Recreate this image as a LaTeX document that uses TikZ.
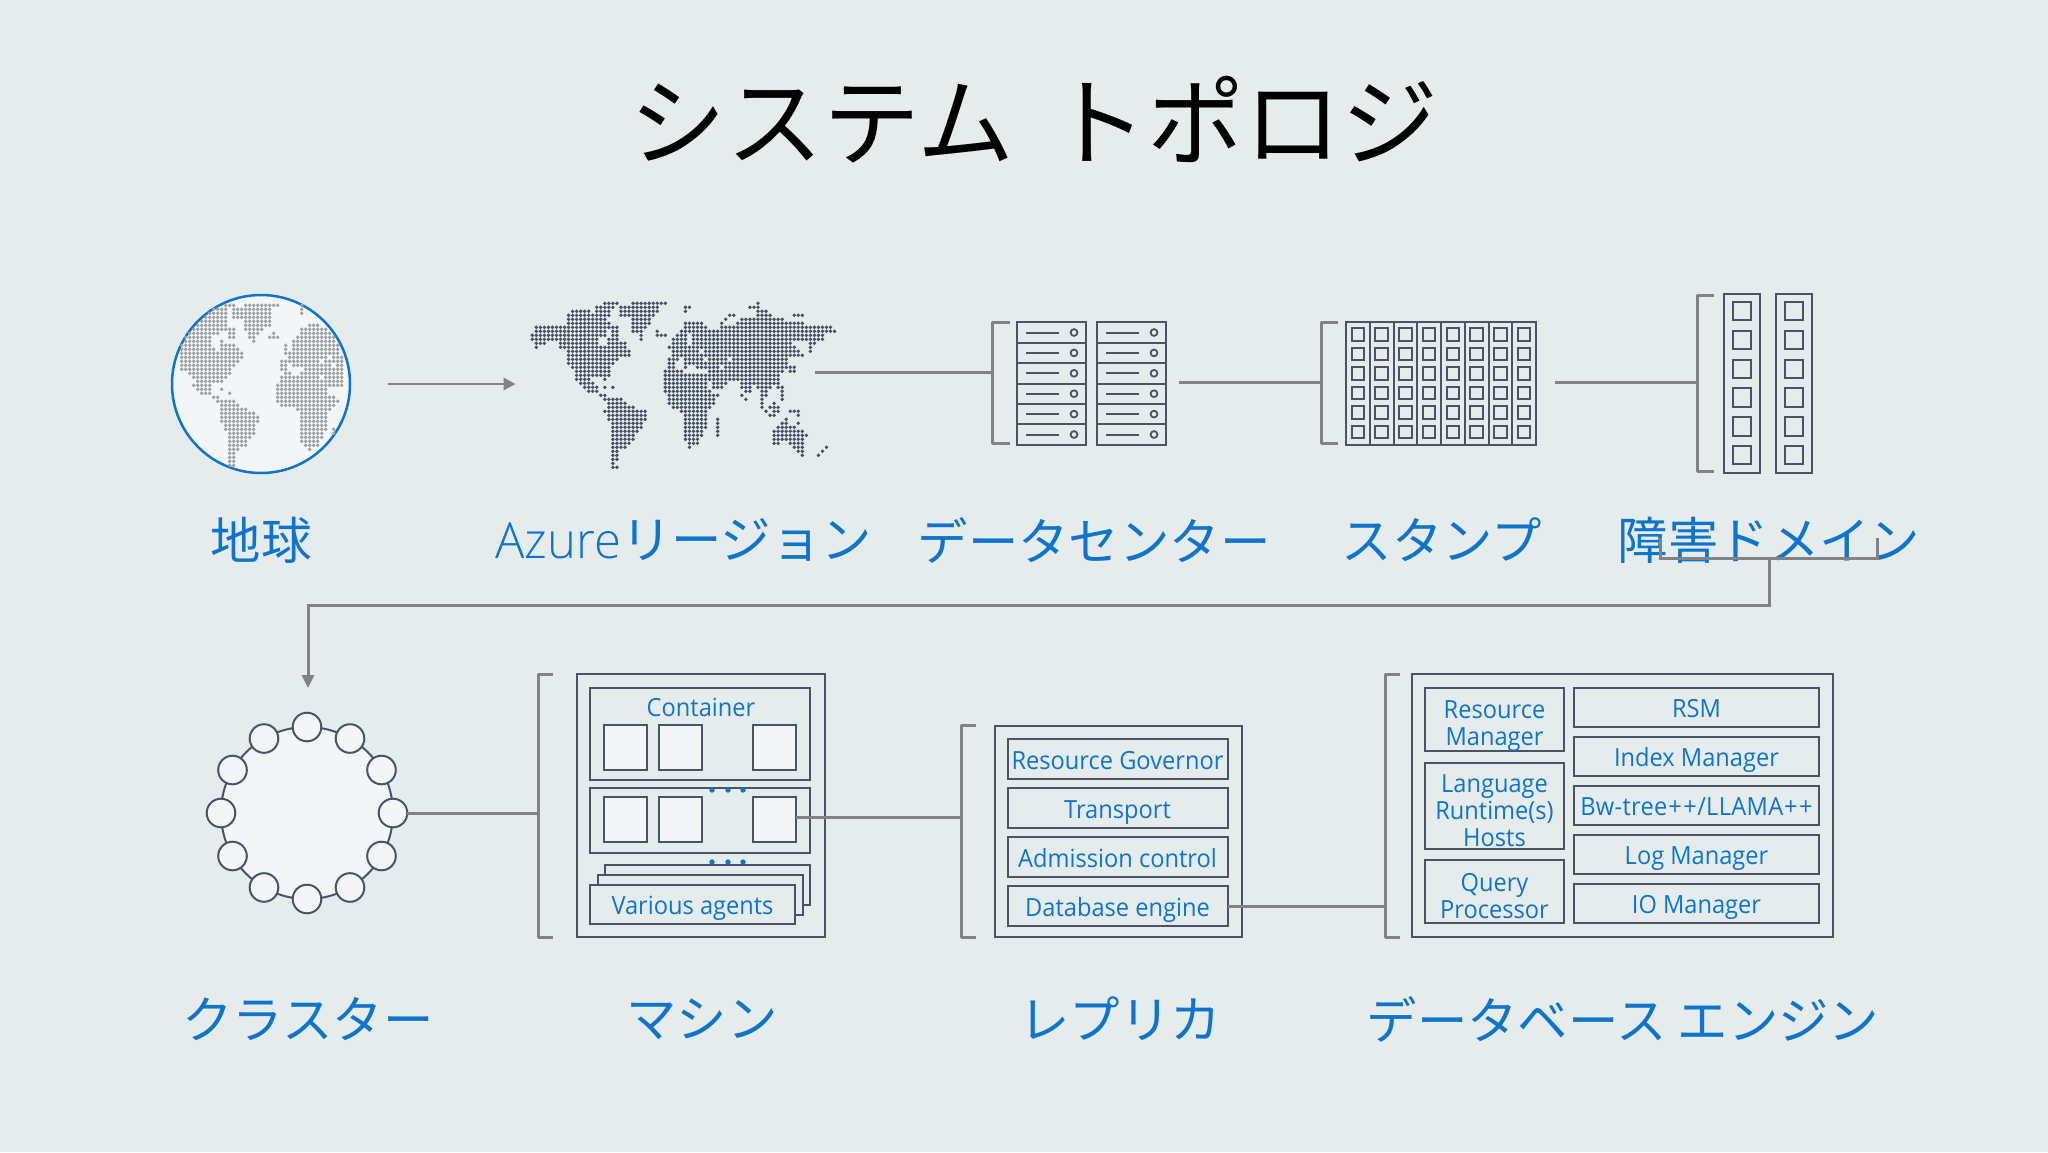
\documentclass[tikz,border=0pt]{standalone}
\usepackage{fontspec}
\usetikzlibrary{arrows.meta}
\setmainfont{Open Sans}[FakeStretch=0.945]
\newfontfamily\azfont{Open Sans}[UprightFont={* Light},FakeStretch=0.98]
\newfontfamily\jp{Noto Sans CJK JP}
\definecolor{bgc}{HTML}{E6EBEC}
\definecolor{ink}{HTML}{4A5468}
\definecolor{conn}{HTML}{808285}
\definecolor{lab}{HTML}{0F75CC}
\definecolor{paper}{HTML}{F4F5F7}
\definecolor{land}{HTML}{A0A1A3}
\definecolor{mapd}{HTML}{465064}
\tikzset{
  frame/.style={draw=ink,line width=2pt,inner sep=0pt,outer sep=0pt},
  txtbox/.style={frame,text=lab,font=\fontsize{25}{27}\selectfont,text height=22pt,text depth=2pt},
  multitext/.style={text=lab,font=\fontsize{25}{27}\selectfont,align=center,inner sep=0pt},
  paperbox/.style={frame,fill=paper},
  wire/.style={draw=conn,line width=3pt},
  bracket/.style={draw=conn,line width=3pt,line join=round},
  title/.style={text=black,font=\jp\fontsize{97}{97}\selectfont,inner sep=0pt},
  biglabel/.style={text=lab,font=\jp\fontsize{50.4}{50.4}\selectfont,inner sep=0pt},
  ringnode/.style={circle,draw=ink,line width=2pt,fill=paper,minimum size=28.6pt,inner sep=0pt,outer sep=0pt},
  bluedot/.style={circle,fill=lab,minimum size=5.4pt,inner sep=0pt}
}
\newcommand\mrow[2]{\foreach \a/\b in {#2}{\foreach \c in {\a,...,\b}{\fill[mapd] ({532.3+4.03*\c},{303.3+4*#1}) circle[radius=1.9pt];}}}
\newcommand\grow[2]{\foreach \a/\b in {#2}{\foreach \c in {\a,...,\b}{\fill[land] ({181.7+4*\c},{305.3+4*#1}) circle[radius=1.9pt];}}}
\begin{document}
\begin{tikzpicture}[x=1pt,y=-1pt]
\fill[bgc] (0,0) rectangle (2048,1152);
\path[use as bounding box] (0,0) rectangle (2048,1152);
% title
\node[title] (ttl) at (1034,120) {システム\hspace{36pt}トポロジ};
% globe
\node[circle,draw=lab,line width=2.5pt,fill=paper,minimum size=178pt,inner sep=0pt,outer sep=0pt] (earth) at (261,384) {};
\grow{0}{11/13,16/24,30/30}
\grow{1}{8/11,13/22,30/30}
\grow{2}{7/11,13/22,30/30}
\grow{3}{6/11,13/22}
\grow{4}{5/11,16/22}
\grow{5}{4/11,16/22,32/34}
\grow{6}{3/10,11/13,16/20,30/36}
\grow{7}{2/9,12/13,17/19,23/23,30/37}
\grow{8}{1/7,12/13,17/18,22/24,29/38}
\grow{9}{1/7,10/10,18/18,28/38}
\grow{10}{0/7,10/13,26/26,28/39}
\grow{11}{0/8,10/14,26/26,28/39}
\grow{12}{0/15,26/39}
\grow{13}{0/15,27/36,38/40}
\grow{14}{0/14,25/27,28/34,36/40}
\grow{15}{0/13,25/26,28/37,39/40}
\grow{16}{0/12,25/26,31/40}
\grow{17}{2/12,26/27,30/40}
\grow{18}{3/11,25/34,36/40}
\grow{19}{4/10,25/35,36/40}
\grow{20}{3/7,24/35,36/40}
\grow{21}{4/6,7/7,10/10,24/36}
\grow{22}{5/7,12/12,24/36}
\grow{23}{8/9,24/38}
\grow{24}{9/13,24/39}
\grow{25}{10/14,25/38}
\grow{26}{10/16,29/37}
\grow{27}{10/18,30/36}
\grow{28}{10/19,30/36}
\grow{29}{10/19,30/36}
\grow{30}{11/18,30/36}
\grow{31}{11/18,30/36,38/38}
\grow{32}{12/18,30/35,38/38}
\grow{33}{12/17,30/35}
\grow{34}{12/16,30/34}
\grow{35}{12/16,31/34}
\grow{36}{12/14,32/32}
\grow{37}{12/13}
\grow{38}{12/13}
\grow{39}{12/13}
\grow{40}{12/13}
% world map
\mrow{0}{18/21,25/33,56/56}
\mrow{1}{16/20,22/31,38/39,54/56}
\mrow{2}{10/14,16/19,22/31,38/38,56/58}
\mrow{3}{9/19,22/30,49/50,56/59,65/67}
\mrow{4}{9/18,25/29,48/48,52/62}
\mrow{5}{9/19,25/29,38/42,47/47,51/67}
\mrow{6}{1/19,20/21,25/28,38/43,47/74}
\mrow{7}{1/18,20/21,25/27,31/31,37/75}
\mrow{8}{0/18,20/21,27/27,31/33,36/38,40/72}
\mrow{9}{0/16,19/21,27/27,35/38,40/72}
\mrow{10}{1/3,7/16,19/23,35/35,36/38,40/64,69/70}
\mrow{11}{1/1,7/23,34/64,65/65,69/69}
\mrow{12}{9/24,35/41,43/66,69/69}
\mrow{13}{9/24,35/67}
\mrow{14}{9/21,34/36,38/42,44/48,50/63}
\mrow{15}{9/20,34/35,38/63}
\mrow{16}{10/19,34/35,38/38,41/46,48/63,64/65}
\mrow{17}{11/19,33/37,44/62,64/65}
\mrow{18}{11/19,33/43,44/61}
\mrow{19}{11/14,18/18,33/61}
\mrow{20}{12/15,33/43,45/48,52/61}
\mrow{21}{13/15,16/16,18/18,20/20,33/43,45/47,52/54,56/59,61/62}
\mrow{22}{14/16,33/44,53/54,57/58,62/62}
\mrow{23}{17/18,34/46,52/52,57/58,62/62}
\mrow{24}{18/22,34/45,53/53,57/57,62/62}
\mrow{25}{19/23,34/45,57/57,60/60}
\mrow{26}{19/25,35/44,57/57,59/61}
\mrow{27}{18/28,37/43,58/58,60/61,64/66}
\mrow{28}{19/28,38/43,59/60,66/66}
\mrow{29}{19/28,38/43,46/46,63/63}
\mrow{30}{20/27,38/43,46/46,62/63,66/66}
\mrow{31}{20/27,38/43,46/46,61/65}
\mrow{32}{20/26,38/42,46/46,60/67}
\mrow{33}{20/25,38/42,46/46,60/68}
\mrow{34}{20/25,38/41,60/67}
\mrow{35}{20/24,39/41,60/61,64/67}
\mrow{36}{20/23,39/39,65/67,73/73}
\mrow{37}{20/21,66/67,72/72}
\mrow{38}{20/21,67/67,71/71}
\mrow{39}{20/21}
\mrow{40}{20/20}
\mrow{41}{20/21}
\coordinate (region) at (515.6,384);
\coordinate (earthout) at (388,384);
\draw[wire,line width=2.6pt,-{Triangle[length=12pt,width=12pt]}] (earthout) -- (region);
% datacenter
\coordinate (mapout) at (815,372.5);
\coordinate (dcb) at (992,372.5);
\draw[wire] (mapout) -- (dcb);
\draw[bracket] (1010,322) -| (992,443) -- (1010,443);
\foreach \x in {1017,1097}{
  \foreach \i in {0,...,5}{
    \draw[ink,line width=2pt] (\x,{322.3+20.4*\i}) rectangle ({\x+68.5},{322.3+20.4*(\i+1)});
    \draw[ink,line width=2pt] ({\x+9},{332.5+20.4*\i}) -- ({\x+42},{332.5+20.4*\i});
    \draw[ink,line width=1.8pt] ({\x+57},{332.5+20.4*\i}) circle[radius=3.4pt];
  }
}
% stamp
\coordinate (dcout) at (1179,382.7);
\coordinate (stb) at (1321,382.7);
\draw[wire] (dcout) -- (stb);
\draw[bracket] (1338,322) -| (1321,443) -- (1338,443);
\foreach \i in {0,...,7}{
  \draw[ink,line width=2pt] ({1346+23.75*\i},322.3) rectangle ({1346+23.75*(\i+1)},445);
  \foreach \j in {0,...,5}{
    \draw[ink,line width=2pt] ({1351.5+23.75*\i},{328.3+19.5*\j}) rectangle ({1364+23.75*\i},{340.8+19.5*\j});
  }
}
% fault domain
\coordinate (stout) at (1555,382.7);
\coordinate (fdb) at (1697,382.7);
\draw[wire] (stout) -- (fdb);
\draw[bracket] (1714,295) -| (1697,471) -- (1714,471);
\foreach \x in {1724,1776}{
  \draw[ink,line width=2pt] (\x,294) rectangle ({\x+36},473);
  \foreach \j in {0,...,5}{
    \draw[ink,line width=2pt] ({\x+9},{302+28.8*\j}) rectangle ({\x+27},{320.3+28.8*\j});
  }
}
% labels row 1
\node[biglabel] (l1) at (261,540) {地球};
\node[biglabel] (l2) at (683.6,540) {{\azfont\fontsize{50}{50}\selectfont Azure}リージョン};
\node[biglabel] (l3) at (1094,540) {データセンター};
\node[biglabel] (l4) at (1442,540) {スタンプ};
\node[biglabel] (l5) at (1769,540) {障害ドメイン};
% connector down to the cluster
\coordinate (tl) at (1660,538);
\coordinate (tr) at (1877,538);
\coordinate (stem) at (1769.5,558.7);
\coordinate (clusterin) at (308,688);
\draw[wire,line join=miter] (tl) |- (stem) -| (tr);
\draw[wire,-{Triangle[length=13pt,width=12pt]}] (stem) -- (1769.5,605) -| (clusterin);
% cluster ring
\node[circle,draw=ink,line width=2pt,fill=paper,minimum size=172pt,inner sep=0pt,outer sep=0pt] (ring) at (307,813) {};
\foreach \k in {0,30,...,330}{
  \node[ringnode] (r\k) at ({307+86*cos(\k)},{813+86*sin(\k)}) {};
}
% machine
\coordinate (mab) at (538,813);
\draw[wire] (r0) -- (mab);
\draw[bracket] (553,674) -| (538,937) -- (553,937);
\node[frame,minimum width=248pt,minimum height=263pt] (machine) at (701,805.5) {};
\node[frame,minimum width=220pt,minimum height=92pt] (cont1) at (700,734) {};
\node[text=lab,font=\fontsize{25}{27}\selectfont,inner sep=0pt,text height=22pt,text depth=2pt] (cont1t) at (701,706) {Container};
\node[paperbox,minimum width=43pt,minimum height=45pt] (a1) at (625.5,747.5) {};
\node[paperbox,minimum width=43pt,minimum height=45pt] (a2) at (680.5,747.5) {};
\node[paperbox,minimum width=43pt,minimum height=45pt] (a3) at (774.5,747.5) {};
\node[frame,minimum width=220pt,minimum height=65pt] (cont2) at (700,820.5) {};
\node[paperbox,minimum width=43pt,minimum height=45pt] (b1) at (625.5,819.5) {};
\node[paperbox,minimum width=43pt,minimum height=45pt] (b2) at (680.5,819.5) {};
\node[paperbox,minimum width=43pt,minimum height=45pt] (b3) at (774.5,819.5) {};
\foreach \x in {712,728,743}{
  \node[bluedot] (d1\x) at (\x,790) {};
  \node[bluedot] (d2\x) at (\x,862) {};
}
\node[frame,fill=bgc,minimum width=205pt,minimum height=40pt] (ag3) at (707.5,885) {};
\node[frame,fill=bgc,minimum width=205pt,minimum height=40pt] (ag2) at (700.5,895) {};
\node[txtbox,fill=bgc,minimum width=205pt,minimum height=39pt] (ag1) at (692.5,904.5) {Various agents};
% replica
\coordinate (reb) at (961,817.7);
\coordinate (b3o) at (796,817.7);
\draw[wire] (b3o) -- (reb);
\draw[bracket] (976,725) -| (961,937) -- (976,937);
\node[frame,minimum width=247.5pt,minimum height=211.5pt] (replica) at (1118.3,831.5) {};
\node[txtbox,minimum width=220pt,minimum height=40pt] (rp1) at (1117.5,759) {Resource Governor};
\node[txtbox,minimum width=220pt,minimum height=40pt] (rp2) at (1117.5,808) {Transport};
\node[txtbox,minimum width=220pt,minimum height=40pt] (rp3) at (1117.5,857) {Admission control};
\node[txtbox,minimum width=220pt,minimum height=40pt] (rp4) at (1117.5,906) {Database engine};
% database engine
\coordinate (dbb) at (1385,906);
\draw[wire] (rp4) -- (dbb);
\draw[bracket] (1400,674) -| (1385,937) -- (1400,937);
\node[frame,minimum width=421pt,minimum height=263pt] (dbe) at (1622.5,805.5) {};
\node[frame,minimum width=139pt,minimum height=63pt] (e1) at (1494.5,719.5) {};
\node[multitext] (e1t) at (1494.5,726) {Resource\\Manager};
\node[frame,minimum width=139pt,minimum height=86pt] (e2) at (1494.5,806) {};
\node[multitext] (e2t) at (1494.5,811) {Language\\Runtime(s)\\Hosts};
\node[frame,minimum width=139pt,minimum height=63pt] (e3) at (1494.5,891.5) {};
\node[multitext] (e3t) at (1494.5,896) {Query\\Processor};
\node[txtbox,minimum width=245pt,minimum height=39pt] (f1) at (1696.5,707.5) {RSM};
\node[txtbox,minimum width=245pt,minimum height=39pt] (f2) at (1696.5,756.5) {Index Manager};
\node[txtbox,minimum width=245pt,minimum height=39pt] (f3) at (1696.5,805.5) {\addfontfeature{LetterSpace=1.2}Bw-tree\hspace{1pt}+\hspace{1.5pt}+/LLAMA\hspace{1pt}+\hspace{1.5pt}+};
\node[txtbox,minimum width=245pt,minimum height=39pt] (f4) at (1696.5,854.5) {Log Manager};
\node[txtbox,minimum width=245pt,minimum height=39pt] (f5) at (1696.5,903.5) {IO Manager};
% labels row 2
\node[biglabel] (m1) at (308,1019) {クラスター};
\node[biglabel] (m2) at (702,1019) {マシン};
\node[biglabel] (m3) at (1120,1019) {レプリカ};
\node[biglabel] (m4) at (1623,1019) {データベース エンジン};
\end{tikzpicture}
\end{document}
